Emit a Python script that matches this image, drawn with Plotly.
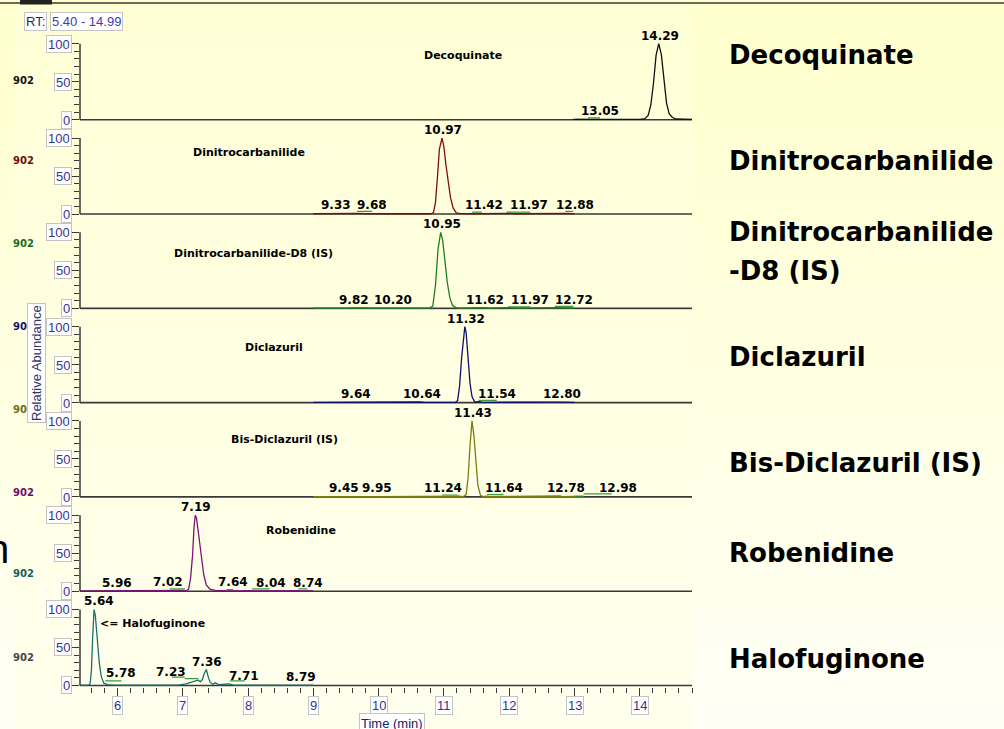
import numpy as np
import plotly.graph_objects as go
from plotly.subplots import make_subplots

# ---------------------------------------------------------------- data
COMPOUNDS = ["Decoquinate", "Dinitrocarbanilide", "Dinitrocarbanilide-D8 (IS)",
             "Diclazuril", "Bis-Diclazuril (IS)", "Robenidine", "Halofuginone"]
PANEL_TITLES = ["Decoquinate", "Dinitrocarbanilide", "Dinitrocarbanilide-D8 (IS)",
                "Diclazuril", "Bis-Diclazuril (IS)", "Robenidine", "<= Halofuginone"]
SIDE_LABELS = [["Decoquinate"], ["Dinitrocarbanilide"], ["Dinitrocarbanilide", "-D8 (IS)"],
               ["Diclazuril"], ["Bis-Diclazuril (IS)"], ["Robenidine"], ["Halofuginone"]]

# retention time (min) / relative abundance (%) for each extracted ion trace
DECO_T = [13.00, 12.98 + 0.0, 13.05, 13.12, 13.50, 14.00, 14.08, 14.13, 14.17, 14.21, 14.25,
          14.29, 14.33, 14.37, 14.41, 14.45, 14.50, 14.56, 14.65, 14.80]
DECO_I = [0.4, 0.4, 1.0, 0.5, 0.4, 0.5, 1.5, 6, 20, 48, 85,
          100, 86, 52, 22, 8, 3, 1, 0.5, 0.4]
DECO_RT = [13.05, 14.29]

DNC_T = [9.00, 9.33, 9.40, 9.68, 9.80, 10.80, 10.84, 10.87, 10.90, 10.93, 10.97, 11.00,
         11.03, 11.06, 11.10, 11.14, 11.19, 11.25, 11.42, 11.50, 11.97, 12.10, 12.88,
         12.95, 13.00]
DNC_I = [0.4, 1.0, 0.4, 1.0, 0.4, 0.4, 2, 15, 48, 85, 100, 88,
         65, 45, 22, 8, 1.5, 0.5, 1.0, 0.4, 0.8, 0.4, 0.9,
         0.4, 0.4]
DNC_RT = [9.33, 9.68, 10.97, 11.42, 11.97, 12.88]

DNCD8_T = [9.00, 9.60, 9.82, 9.95, 10.20, 10.30, 10.78, 10.83, 10.87, 10.91, 10.95, 10.98,
           11.01, 11.05, 11.09, 11.13, 11.18, 11.25, 11.62, 11.70, 11.97, 12.10, 12.72,
           12.85, 13.00]
DNCD8_I = [0.4, 0.4, 1.0, 0.4, 0.8, 0.4, 0.4, 3, 30, 78, 100, 90,
           62, 35, 14, 4, 1, 0.4, 0.8, 0.4, 0.9, 0.4, 0.9,
           0.4, 0.4]
DNCD8_RT = [9.82, 10.20, 10.95, 11.62, 11.97, 12.72]

DICLA_T = [9.00, 9.64, 9.70, 10.64, 10.70, 11.18, 11.21, 11.24, 11.27, 11.30, 11.32, 11.34,
           11.37, 11.40, 11.43, 11.47, 11.54, 11.60, 12.80, 12.90, 13.00]
DICLA_I = [0.4, 0.8, 0.4, 0.8, 0.4, 0.4, 3, 22, 58, 90, 100, 92,
           55, 25, 8, 1, 1.2, 0.4, 0.7, 0.4, 0.4]
DICLA_RT = [9.64, 10.64, 11.32, 11.54, 12.80]

BISD_T = [9.00, 9.45, 9.50, 9.95, 10.00, 11.24, 11.30, 11.34, 11.37, 11.40, 11.43, 11.46,
          11.49, 11.52, 11.56, 11.60, 11.64, 11.70, 12.78, 12.82, 12.98, 13.00]
BISD_I = [0.4, 0.8, 0.4, 1.0, 0.4, 1.0, 0.4, 3, 25, 68, 100, 80,
          45, 15, 2, 0.5, 1.0, 0.4, 1.2, 0.4, 0.8, 0.4]
BISD_RT = [9.45, 9.95, 11.24, 11.43, 11.64, 12.78, 12.98]

ROBE_T = [5.425, 5.96, 6.02, 7.02, 7.06, 7.09, 7.12, 7.15, 7.17, 7.19, 7.21, 7.24, 7.28,
          7.32, 7.36, 7.42, 7.50, 7.60, 7.64, 7.70, 8.04, 8.10, 8.74, 8.80, 9.00]
ROBE_I = [0.4, 0.8, 0.4, 1.2, 0.5, 3, 18, 48, 82, 100, 96, 75, 48,
          22, 8, 2.5, 1.2, 0.6, 1.0, 0.4, 0.8, 0.4, 0.8, 0.4, 0.4]
ROBE_RT = [5.96, 7.02, 7.19, 7.64, 8.04, 8.74]

HALO_T = [5.425, 5.55, 5.58, 5.60, 5.62, 5.64, 5.66, 5.69, 5.72, 5.75, 5.79, 5.85, 5.95,
          6.80, 6.95, 7.05, 7.12, 7.18, 7.23, 7.27, 7.30, 7.33, 7.36, 7.39, 7.42, 7.46,
          7.50, 7.55, 7.60, 7.71, 7.78, 9.00]
HALO_I = [0.4, 0.4, 2, 20, 65, 100, 92, 60, 30, 12, 3, 1, 0.5,
          0.5, 0.8, 2, 4, 5, 7, 5, 8, 16, 21, 11, 4, 1.5,
          3.5, 1, 1.5, 2, 0.4, 0.4]
HALO_RT = [5.64, 5.78, 7.23, 7.36, 7.71, 8.79]

# integration baselines: (start, end, level)
DECO_INT = [(13.02, 13.18, 0.7), (13.20, 13.39, 2.5)]
DNC_INT = [(9.67, 9.90, 3.5), (11.43, 11.58, 2.5), (11.96, 12.32, 2.5), (12.86, 12.98, 3.5)]
DNCD8_INT = [(9.56, 9.84, 1.0), (11.98, 12.32, 2.0), (12.70, 12.98, 2.5)]
DICLA_INT = [(11.53, 11.81, 3.0)]
BISD_INT = [(10.97, 11.22, 2.5), (11.66, 11.91, 3.0), (12.99, 13.14, 1.0), (13.14, 13.57, 4.0)]
ROBE_INT = [(6.80, 7.03, 3.0), (7.67, 7.77, 2.0), (8.06, 8.33, 3.0), (8.77, 8.91, 3.0)]
HALO_INT = [(5.81, 6.06, 6.0), (6.83, 7.03, 11.0), (7.03, 7.24, 9.0), (7.72, 7.95, 6.0)]

TRACES_T = [DECO_T, DNC_T, DNCD8_T, DICLA_T, BISD_T, ROBE_T, HALO_T]
TRACES_I = [DECO_I, DNC_I, DNCD8_I, DICLA_I, BISD_I, ROBE_I, HALO_I]
PEAK_RT = [DECO_RT, DNC_RT, DNCD8_RT, DICLA_RT, BISD_RT, ROBE_RT, HALO_RT]
INTEGRATIONS = [DECO_INT, DNC_INT, DNCD8_INT, DICLA_INT, BISD_INT, ROBE_INT, HALO_INT]

FILTER_TAGS = ["902"] * 8
Y_TICKS = [0, 50, 100]
Y_MINOR = [10, 20, 30, 40, 60, 70, 80, 90]
X_TICKS = [6, 7, 8, 9, 10, 11, 12, 13, 14]
RT_WINDOW = "5.40 - 14.99"
X_TITLE = "Time (min)"
Y_TITLE = "Relative Abundance"

# ---------------------------------------------------------------- style
W, H = 1004, 729
ML, MR, MT, MB = 80, 312, 27, 42
PW, PH = W - ML - MR, H - MT - MB
X_RANGE = [5.425, 14.80]
Y_RANGE = [-2, 122.06]

TRACE_COLORS = ["#111111", "#7a1010", "#1f7d1f", "#10106e", "#7d7d10", "#7a127a", "#177070"]
TAG_COLORS = ["#111111", "#6a0d0d", "#1b6a1b", "#10106e", "#6d6d10", "#6a106a", "#145f5f", "#444444"]
TAG_Y = [80, 161, 244, 326, 409, 492, 573, 657]
INT_COLOR = "#3c9a3c"
AXIS_COLOR = "#383838"
TICKLABEL_COLOR = "#343494"

# pixel nudges of the retention-time labels, per panel
LABEL_SHIFT = [
    {13.05: 22},
    {9.68: 14, 11.42: 13, 11.97: 22, 12.88: 8},
    {9.82: -13, 11.97: 23, 12.72: 18},
    {10.64: 2, 11.54: 18},
    {9.95: 2, 11.24: -17, 11.64: 18, 12.78: 6, 12.98: 45},
    {5.96: 2, 7.02: -16, 7.64: 8, 8.04: 20, 8.74: 12},
    {5.64: 5, 5.78: 18, 7.23: -27, 7.71: 15},
]
# in-panel compound captions: (time, abundance, anchor)
TITLE_POS = [(11.29, 84, "center"), (8.02, 81, "center"), (8.09, 72, "center"),
             (8.40, 72, "center"), (8.56, 75, "center"), (8.81, 80, "center"),
             (5.70, 81, "left")]
SIDE_Y = [[55], [161], [232, 271], [357], [463], [553], [659]]


def xp(px):
    return (px - ML) / PW


def yp(py):
    return (MT + PH - py) / PH


def ax_ref(letter, row, domain=False):
    name = letter if row == 1 else f"{letter}{row}"
    return name + (" domain" if domain else "")


fig = make_subplots(rows=7, cols=1, shared_xaxes=True, vertical_spacing=0)

shapes = []
# page background: soft vertical gradients
def gradient(x0, x1, y0, y1, top, bot, n=36):
    for i in range(n):
        f = (i + 0.5) / n
        c = tuple(int(round(top[k] + (bot[k] - top[k]) * f)) for k in range(3))
        ya = y0 + (y1 - y0) * i / n
        yb = y0 + (y1 - y0) * (i + 1) / n + 0.6
        shapes.append(dict(type="rect", xref="paper", yref="paper", layer="below",
                           x0=xp(x0), x1=xp(x1), y0=yp(ya), y1=yp(yb),
                           fillcolor="rgb(%d,%d,%d)" % c, line=dict(width=0)))

gradient(0, W, 0, H, (255, 255, 204), (255, 255, 246))
gradient(13, 692, 6, H, (255, 255, 214), (255, 255, 238))
# window frame line across the top
shapes.append(dict(type="line", xref="paper", yref="paper", x0=xp(0), x1=xp(W),
                   y0=yp(3), y1=yp(3), line=dict(color="#3a3a3a", width=1.6)))
shapes.append(dict(type="rect", xref="paper", yref="paper", x0=xp(20), x1=xp(52),
                   y0=yp(0), y1=yp(4.5), fillcolor="#222222", line=dict(width=0)))

annotations = []
for k in range(7):
    row = k + 1
    T, I = TRACES_T[k], TRACES_I[k]
    # axis frame of each panel
    shapes.append(dict(type="line", xref=ax_ref("x", row, True), yref=ax_ref("y", row),
                       x0=0, x1=1, y0=0, y1=0, layer="below",
                       line=dict(color=AXIS_COLOR, width=1.6)))
    shapes.append(dict(type="line", xref=ax_ref("x", row, True), yref=ax_ref("y", row),
                       x0=0, x1=0, y0=0, y1=100, line=dict(color=AXIS_COLOR, width=1.5)))
    # integration baselines
    ix, iy = [], []
    for (a, b, lv) in INTEGRATIONS[k]:
        ix += [a, b, None]
        iy += [lv, lv, None]
    fig.add_trace(go.Scatter(x=ix, y=iy, mode="lines", line=dict(color=INT_COLOR, width=1.2),
                             hoverinfo="skip", showlegend=False), row=row, col=1)
    fig.add_trace(go.Scatter(x=T, y=I, mode="lines",
                             line=dict(color=TRACE_COLORS[k], width=1.3),
                             name=COMPOUNDS[k], showlegend=False), row=row, col=1)
    # retention time labels
    for rt in PEAK_RT[k]:
        h = float(np.interp(rt, T, I))
        annotations.append(dict(x=rt, y=h, xref=ax_ref("x", row), yref=ax_ref("y", row),
                                text="%.2f" % rt, showarrow=False, xanchor="center",
                                yanchor="bottom", xshift=LABEL_SHIFT[k].get(rt, 1), yshift=0,
                                borderpad=0,
                                font=dict(family="DejaVu Sans", size=12, color="#000000",
                                          weight="bold")))
    tx, ty, anc = TITLE_POS[k]
    annotations.append(dict(x=tx, y=ty, xref=ax_ref("x", row), yref=ax_ref("y", row),
                            text=PANEL_TITLES[k], showarrow=False, xanchor=anc,
                            yanchor="middle",
                            font=dict(family="DejaVu Sans", size=11, color="#000000",
                                      weight="bold")))
    # boxed y tick labels
    for v in Y_TICKS:
        annotations.append(dict(x=0, y=v, xref=ax_ref("x", row, True), yref=ax_ref("y", row),
                                text=str(v), showarrow=False, xanchor="right",
                                yanchor="middle", xshift=-8, height=14, borderpad=1,
                                bgcolor="#ffffff", bordercolor="#c4c4c4", borderwidth=1,
                                font=dict(family="Liberation Sans", size=13,
                                          color=TICKLABEL_COLOR)))
    # right-hand caption
    for line_txt, cy in zip(SIDE_LABELS[k], SIDE_Y[k]):
        annotations.append(dict(x=xp(727), y=yp(cy), xref="paper", yref="paper",
                                text=line_txt, showarrow=False, xanchor="left",
                                yanchor="middle",
                                font=dict(family="DejaVu Sans", size=26, color="#000000",
                                          weight="bold")))

# scan filter tags along the left edge
for tag, c, ty in zip(FILTER_TAGS, TAG_COLORS, TAG_Y):
    annotations.append(dict(x=xp(23), y=yp(ty), xref="paper", yref="paper", text=tag,
                            showarrow=False, xanchor="center", yanchor="middle",
                            font=dict(family="DejaVu Sans", size=10, color=c,
                                      weight="bold")))

# boxed x tick labels and axis titles
for v in X_TICKS:
    annotations.append(dict(x=v, y=yp(696), xref="x7", yref="paper", text=str(v),
                            showarrow=False, xanchor="center", yanchor="top", height=15,
                            borderpad=1, bgcolor="#ffffff", bordercolor="#c4c4c4",
                            borderwidth=1,
                            font=dict(family="Liberation Sans", size=13,
                                      color=TICKLABEL_COLOR)))
annotations.append(dict(x=xp(392), y=yp(713), xref="paper", yref="paper", text=X_TITLE,
                        showarrow=False, xanchor="center", yanchor="top", height=16,
                        borderpad=1, bgcolor="#ffffff", bordercolor="#c4c4c4", borderwidth=1,
                        font=dict(family="Liberation Sans", size=13, color="#222266")))
annotations.append(dict(x=xp(37), y=yp(363), xref="paper", yref="paper", text=Y_TITLE,
                        showarrow=False, textangle=-90, xanchor="center", yanchor="middle",
                        borderpad=1, bgcolor="#ffffff", bordercolor="#c4c4c4", borderwidth=1,
                        font=dict(family="Liberation Sans", size=13, color="#333366")))
annotations.append(dict(x=xp(24), y=yp(12), xref="paper", yref="paper", text="RT:",
                        showarrow=False, xanchor="left", yanchor="top", height=15,
                        borderpad=1, bgcolor="#ffffff", bordercolor="#c4c4c4", borderwidth=1,
                        font=dict(family="Liberation Sans", size=13, color="#2a2a55")))
annotations.append(dict(x=xp(49.5), y=yp(12), xref="paper", yref="paper", text=RT_WINDOW,
                        showarrow=False, xanchor="left", yanchor="top", height=15,
                        borderpad=1, bgcolor="#ffffff", bordercolor="#c4c4c4", borderwidth=1,
                        font=dict(family="Liberation Sans", size=13, color="#3b3bb8")))
# clipped slide lettering at the far left
annotations.append(dict(x=xp(11), y=yp(549), xref="paper", yref="paper", text="n",
                        showarrow=False, xanchor="right", yanchor="middle",
                        font=dict(family="Liberation Sans", size=40, color="#000000")))

for k in range(7):
    row = k + 1
    fig.update_yaxes(row=row, col=1, range=Y_RANGE, showgrid=False, zeroline=False,
                     showline=False, showticklabels=False, tickmode="array",
                     tickvals=Y_TICKS, ticks="outside", ticklen=8, tickwidth=1.3,
                     tickcolor=AXIS_COLOR,
                     minor=dict(tickmode="array", tickvals=Y_MINOR, ticks="outside",
                                ticklen=5, tickwidth=1.2, tickcolor=AXIS_COLOR))
    fig.update_xaxes(row=row, col=1, range=X_RANGE, showgrid=False, zeroline=False,
                     showline=False, showticklabels=False, ticks="")

fig.update_xaxes(row=7, col=1, tickmode="array", tickvals=X_TICKS, ticks="outside",
                 ticklen=8, tickwidth=1.3, tickcolor=AXIS_COLOR,
                 minor=dict(ticks="outside", dtick=0.2, tick0=6, ticklen=5, tickwidth=1.2,
                            tickcolor=AXIS_COLOR))

fig.update_layout(width=W, height=H, margin=dict(l=ML, r=MR, t=MT, b=MB, pad=0),
                  paper_bgcolor="#fffff6", plot_bgcolor="rgba(0,0,0,0)",
                  shapes=shapes, annotations=annotations, showlegend=False,
                  hovermode=False)

fig.write_html("out.html")
